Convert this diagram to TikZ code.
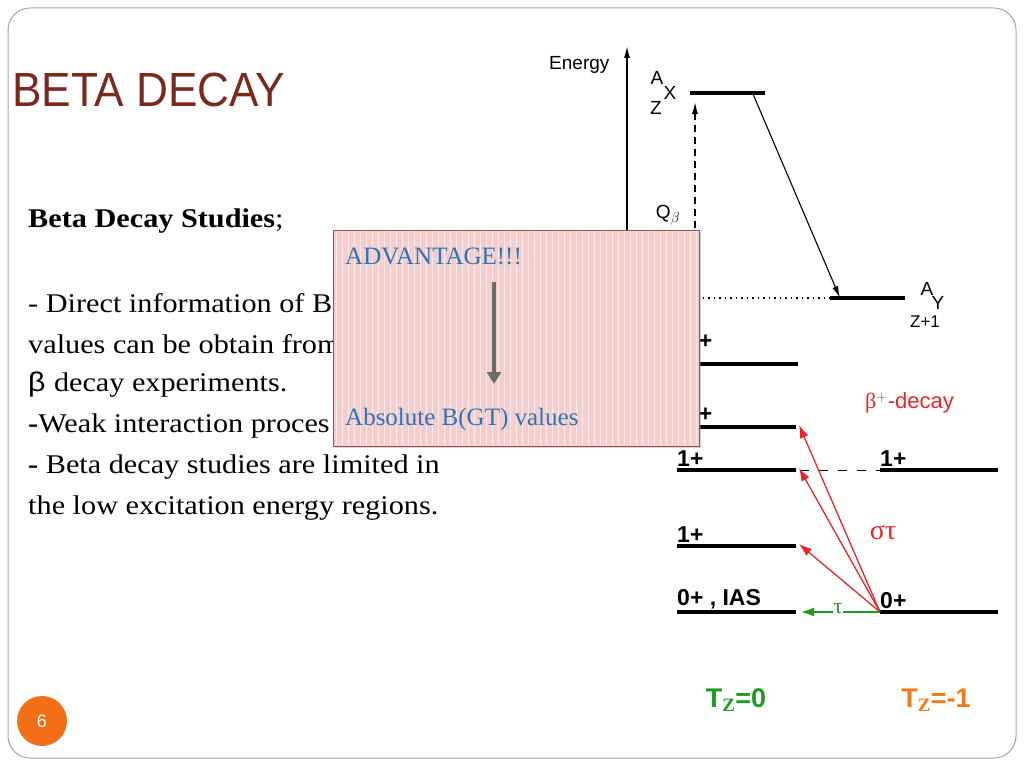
\documentclass[tikz,border=0pt]{standalone}
\usepackage{fontspec}
\setmainfont{Liberation Serif}
\newfontfamily\arialf{Liberation Sans}
\usetikzlibrary{arrows.meta,shadows}
\definecolor{titlered}{HTML}{7A2A1C}
\definecolor{boxpink}{HTML}{F5CDCD}
\definecolor{boxblue}{HTML}{2E74B5}
\definecolor{rd}{HTML}{E8262A}
\definecolor{gr}{HTML}{1E9A1E}
\definecolor{org}{HTML}{F07A1A}
\begin{document}
\begin{tikzpicture}[x=1pt,y=-1pt,
  lvl/.style={line width=3.4pt},
  body/.style={anchor=west,font=\fontsize{27}{30}\selectfont,inner sep=0,xscale=1.12},
  dia/.style={font=\arialf\fontsize{19}{21}\selectfont,inner sep=0},
  lab/.style={font=\arialf\bfseries\fontsize{23}{25}\selectfont,inner sep=0,anchor=south west}]
\useasboundingbox (0,0) rectangle (1024,768);
\draw[gray!70,line width=1pt,rounded corners=22pt] (8,8) rectangle (1016,758);
\node[anchor=west,inner sep=0,text=titlered,font=\arialf\fontsize{48}{52}\selectfont,xscale=0.92] (title) at (12,90) {BETA DECAY};
\node[body] (t1) at (28,221) {\textbf{Beta Decay Studies};};
\node[body] (t2) at (28,303) {- Direct information of B};
\node[body] (t3) at (28,344) {values can be obtain from};
\node[body] (t4) at (28,385) {\arialf β\ \rmfamily decay experiments.};
\node[body] (t5) at (28,426) {\textbf{-}Weak interaction proces};
\node[body] (t6) at (28,467) {\textbf{-} Beta decay studies are limited in};
\node[body] (t7) at (28,508) {the low excitation energy regions.};
% energy diagram
\node[dia,anchor=west] (en) at (549,65) {Energy};
\coordinate (ax0) at (627,240);
\coordinate (ax1) at (627,46);
\draw[-{Latex[length=12pt,width=6pt]},line width=1.5pt] (ax0) -- (ax1);
\draw[lvl] (690,93) coordinate (x0) -- (765,93) coordinate (x1);
\node[dia] (xa) at (657,78) {A};
\node[dia] (xx) at (670,93) {X};
\node[dia] (xz) at (656,108) {Z};
\coordinate (q0) at (695,300); \coordinate (q1) at (695,102);
\draw[dash pattern=on 7pt off 5pt,-{Latex[length=12pt,width=6pt]},line width=1.3pt] (q0) -- (q1);
\node[dia] (qb) at (668,215) {Q$_{\beta}$};
\draw[lvl] (830,298) coordinate (y0) -- (905,298) coordinate (y1);
\draw[dash pattern=on 1.5pt off 4pt,line width=1.2pt] (697,298) -- (y0);
\coordinate (d0) at (753,94); \coordinate (d1) at (840,298);
\draw[-{Latex[length=12pt,width=6pt]},line width=1.1pt] (d0) -- (d1);
\node[dia] (ya) at (927,289) {A};
\node[dia] (yy) at (938,303) {Y};
\node[dia,font=\arialf\fontsize{17}{19}\selectfont] (yz) at (925,322) {Z+1};
% levels
\draw[lvl] (690,364) coordinate (l1a) -- (798,364) coordinate (l1b);
\draw[lvl] (690,427) coordinate (l2a) -- (796,427) coordinate (l2b);
\draw[lvl] (677,470) coordinate (l3a) -- (796,470) coordinate (l3b);
\draw[lvl] (677,546) coordinate (l4a) -- (796,546) coordinate (l4b);
\draw[lvl] (677,612) coordinate (l5a) -- (796,612) coordinate (l5b);
\draw[lvl] (880,470) coordinate (r1a) -- (998,470) coordinate (r1b);
\draw[lvl] (880,612) coordinate (r2a) -- (998,612) coordinate (r2b);
\draw[dash pattern=on 9pt off 10pt,line width=1pt] (800,470) -- (r1a);
\node[lab] (p1) at (686,349) {1+};
\node[lab] (p2) at (686,422) {1+};
\node[lab] (p3) at (677,467) {1+};
\node[lab] (p4) at (677,543) {1+};
\node[lab] (p5) at (677,609) {0+ , IAS};
\node[lab] (p6) at (880,467) {1+};
\node[lab] (p7) at (880,609) {0+};
\foreach \t in {l2b,l3b,l4b}
  \draw[rd,line width=1.3pt,-{Latex[length=13pt,width=9pt]}] (r2a) -- ([xshift=3pt,yshift=2pt]\t);
\node[text=rd,font=\fontsize{28}{30}\selectfont,inner sep=0] (st) at (883,532) {στ};
\node[text=rd,font=\arialf\fontsize{22}{24}\selectfont,inner sep=0,anchor=west] (bd) at (865,403) {\rmfamily β$^{+}$\arialf-decay};
\draw[gr,line width=1.3pt,-{Latex[length=13pt,width=9pt]}] (r2a) -- ([xshift=5pt]l5b);
\node[fill=white,text=gr,font=\fontsize{22}{24}\selectfont,inner sep=1pt] (tau) at (838,609) {τ};
\node[text=gr,font=\arialf\bfseries\fontsize{27}{29}\selectfont,inner sep=0] (tz0) at (736,700) {T$_{\mathbf{Z}}$=0};
\node[text=org,font=\arialf\bfseries\fontsize{27}{29}\selectfont,inner sep=0] (tz1) at (936,700) {T$_{\mathbf{Z}}$=-1};
% callout box
\node[draw=titlered!80,line width=0.8pt,fill=boxpink,minimum width=366pt,minimum height=216pt,anchor=north west,inner sep=0,drop shadow={opacity=0.35,shadow xshift=2pt,shadow yshift=-2pt}] (box) at (333,230) {};
\foreach \i in {0,...,60} \draw[white!60!boxpink,line width=0.7pt] (336+\i*6,231) -- (336+\i*6,445);
\node[anchor=west,inner sep=0,text=boxblue,font=\fontsize{25}{27}\selectfont] (adv) at (345,256) {ADVANTAGE!!!};
\node[anchor=west,inner sep=0,text=boxblue,font=\fontsize{25}{27}\selectfont] (abs) at (345,419) {Absolute B(GT) values};
\coordinate (ar0) at (494,282); \coordinate (ar1) at (494,384);
\draw[gray!85!black,line width=3.5pt,-{Triangle[length=12pt,width=14pt]}] (ar0) -- (ar1);
% page number
\node[circle,fill=org!90!red,minimum size=50pt,text=white,font=\arialf\fontsize{18}{20}\selectfont] (pg) at (42,721) {6};
\end{tikzpicture}
\end{document}
